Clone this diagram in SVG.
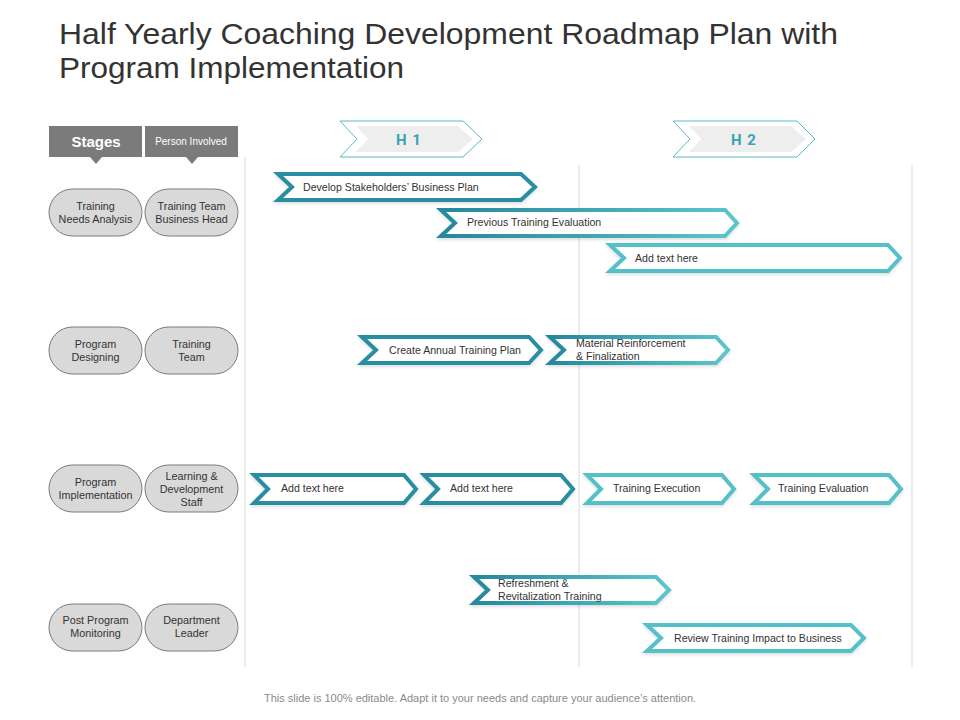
<svg xmlns="http://www.w3.org/2000/svg" width="960" height="720" viewBox="0 0 960 720">
<defs>
<linearGradient id="g" x1="0" y1="0" x2="1" y2="0">
<stop offset="0" stop-color="#25889c"/>
<stop offset="1" stop-color="#5cc5cc"/>
</linearGradient>
<filter id="sh" x="-5%" y="-20%" width="110%" height="150%">
<feDropShadow dx="0" dy="2" stdDeviation="1.5" flood-color="#000" flood-opacity="0.12"/>
</filter>
</defs>
<style>
.title{font-family:"Liberation Sans",Arial,sans-serif;font-size:29.5px;fill:#333}
.foot{font-family:"Liberation Sans",Arial,sans-serif;font-size:11px;fill:#8a8a8a}
.hdr{fill:#7b7b7b}
.oval{fill:#d9d9d9;stroke:#7a7a7a;stroke-width:1}
.ot{font-family:"Liberation Sans",Arial,sans-serif;font-size:10.8px;fill:#333;text-anchor:middle}
.vl{stroke:#d8d8d8;stroke-width:1}
.ch{fill:#fff;stroke-width:4;stroke-linejoin:miter;filter:url(#sh)}
.dk{stroke:#2a8ea2}
.lt{stroke:#55c0c8}
.gr{stroke:url(#g)}
.ct{font-family:"Liberation Sans",Arial,sans-serif;font-size:10.6px;fill:#333}
.hc{fill:#fff;stroke:#5ab9c6;stroke-width:1}
.hi{fill:#eeeeee}
.ht{font-family:"Roboto","Liberation Sans",sans-serif;font-size:15px;font-weight:bold;fill:#3aa3b3;text-anchor:middle;letter-spacing:1px}
</style>
<rect width="960" height="720" fill="#fff"/>
<text class="title" x="59" y="44" textLength="779" lengthAdjust="spacingAndGlyphs">Half Yearly Coaching Development Roadmap Plan with</text>
<text class="title" x="59" y="78" textLength="345" lengthAdjust="spacingAndGlyphs">Program Implementation</text>

<g id="gridlines">
<line class="vl" x1="245" y1="157" x2="245" y2="667"/>
<line class="vl" x1="579" y1="165" x2="579" y2="667"/>
<line class="vl" x1="912" y1="165" x2="912" y2="667"/>
</g>

<g id="hdr-stages">
<rect class="hdr" x="49" y="126" width="93" height="31"/>
<polygon class="hdr" points="90,157 102,157 96,164"/>
<text x="96" y="147" font-family="Liberation Sans,Arial,sans-serif" font-size="15" font-weight="bold" fill="#fff" text-anchor="middle">Stages</text>
</g>
<g id="hdr-person">
<rect class="hdr" x="145" y="126" width="93" height="31"/>
<polygon class="hdr" points="186,157 198,157 192,164"/>
<text x="191" y="145" font-family="Liberation Sans,Arial,sans-serif" font-size="10" fill="#fff" text-anchor="middle">Person Involved</text>
</g>

<g id="h1">
<polygon class="hc" points="340,121 463,121 482,139 463,157 340,157 357,139"/>
<polygon class="hi" points="356,126 458,126 473,139 458,152 356,152 368,139"/>
<text class="ht" x="409" y="145">H 1</text>
</g>
<g id="h2">
<polygon class="hc" points="673,121 797,121 815,139 797,157 673,157 690,139"/>
<polygon class="hi" points="689,126 791,126 806,139 791,152 689,152 701,139"/>
<text class="ht" x="744" y="145">H 2</text>
</g>

<g id="s1">
<rect class="oval" x="49" y="189" width="93" height="47" rx="23.5"/>
<text class="ot" x="95.5" y="210">Training</text>
<text class="ot" x="95.5" y="223">Needs Analysis</text>
</g>
<g id="p1">
<rect class="oval" x="145" y="189" width="93" height="47" rx="23.5"/>
<text class="ot" x="191.5" y="210">Training Team</text>
<text class="ot" x="191.5" y="223">Business Head</text>
</g>
<g id="s2">
<rect class="oval" x="49" y="327" width="93" height="47" rx="23.5"/>
<text class="ot" x="95.5" y="348">Program</text>
<text class="ot" x="95.5" y="361">Designing</text>
</g>
<g id="p2">
<rect class="oval" x="145" y="327" width="93" height="47" rx="23.5"/>
<text class="ot" x="191.5" y="348">Training</text>
<text class="ot" x="191.5" y="361">Team</text>
</g>
<g id="s3">
<rect class="oval" x="49" y="465" width="93" height="47" rx="23.5"/>
<text class="ot" x="95.5" y="486">Program</text>
<text class="ot" x="95.5" y="499">Implementation</text>
</g>
<g id="p3">
<rect class="oval" x="145" y="465" width="93" height="47" rx="23.5"/>
<text class="ot" x="191.5" y="480">Learning &amp;</text>
<text class="ot" x="191.5" y="493">Development</text>
<text class="ot" x="191.5" y="506">Staff</text>
</g>
<g id="s4">
<rect class="oval" x="49" y="604" width="93" height="47" rx="23.5"/>
<text class="ot" x="95.5" y="624">Post Program</text>
<text class="ot" x="95.5" y="637">Monitoring</text>
</g>
<g id="p4">
<rect class="oval" x="145" y="604" width="93" height="47" rx="23.5"/>
<text class="ot" x="191.5" y="624">Department</text>
<text class="ot" x="191.5" y="637">Leader</text>
</g>

<g id="t1">
<polygon class="ch dk" points="278,174 521,174 535,187 521,200 278,200 292,187"/>
<text class="ct" x="303" y="191">Develop Stakeholders’ Business Plan</text>
</g>
<g id="t2">
<polygon class="ch gr" points="441,210 725,210 737,223 725,236 441,236 455,223"/>
<text class="ct" x="467" y="226">Previous Training Evaluation</text>
</g>
<g id="t3">
<polygon class="ch lt" points="610,245 888,245 900,258 888,271 610,271 624,258"/>
<text class="ct" x="635" y="262">Add text here</text>
</g>
<g id="t4">
<polygon class="ch dk" points="362,337 529,337 541,350 529,363 362,363 376,350"/>
<text class="ct" x="389" y="354">Create Annual Training Plan</text>
</g>
<g id="t5">
<polygon class="ch gr" points="550,337 716,337 728,350 716,363 550,363 564,350"/>
<text class="ct" x="576" y="347">Material Reinforcement</text>
<text class="ct" x="576" y="360">&amp; Finalization</text>
</g>
<g id="t6">
<polygon class="ch dk" points="254,475 404,475 416,489 404,503 254,503 268,489"/>
<text class="ct" x="281" y="492">Add text here</text>
</g>
<g id="t7">
<polygon class="ch dk" points="424,475 561,475 573,489 561,503 424,503 438,489"/>
<text class="ct" x="450" y="492">Add text here</text>
</g>
<g id="t8">
<polygon class="ch lt" points="587,475 722,475 734,489 722,503 587,503 601,489"/>
<text class="ct" x="613" y="492">Training Execution</text>
</g>
<g id="t9">
<polygon class="ch lt" points="754,475 889,475 901,489 889,503 754,503 768,489"/>
<text class="ct" x="778" y="492">Training Evaluation</text>
</g>
<g id="t10">
<polygon class="ch gr" points="474,577 656,577 669,590 656,603 474,603 488,590"/>
<text class="ct" x="498" y="587">Refreshment &amp;</text>
<text class="ct" x="498" y="600">Revitalization Training</text>
</g>
<g id="t11">
<polygon class="ch lt" points="647,625 851,625 864,638 851,651 647,651 661,638"/>
<text class="ct" x="674" y="642">Review Training Impact to Business</text>
</g>

<text class="foot" x="480" y="702" text-anchor="middle">This slide is 100% editable. Adapt it to your needs and capture your audience’s attention.</text>
</svg>
